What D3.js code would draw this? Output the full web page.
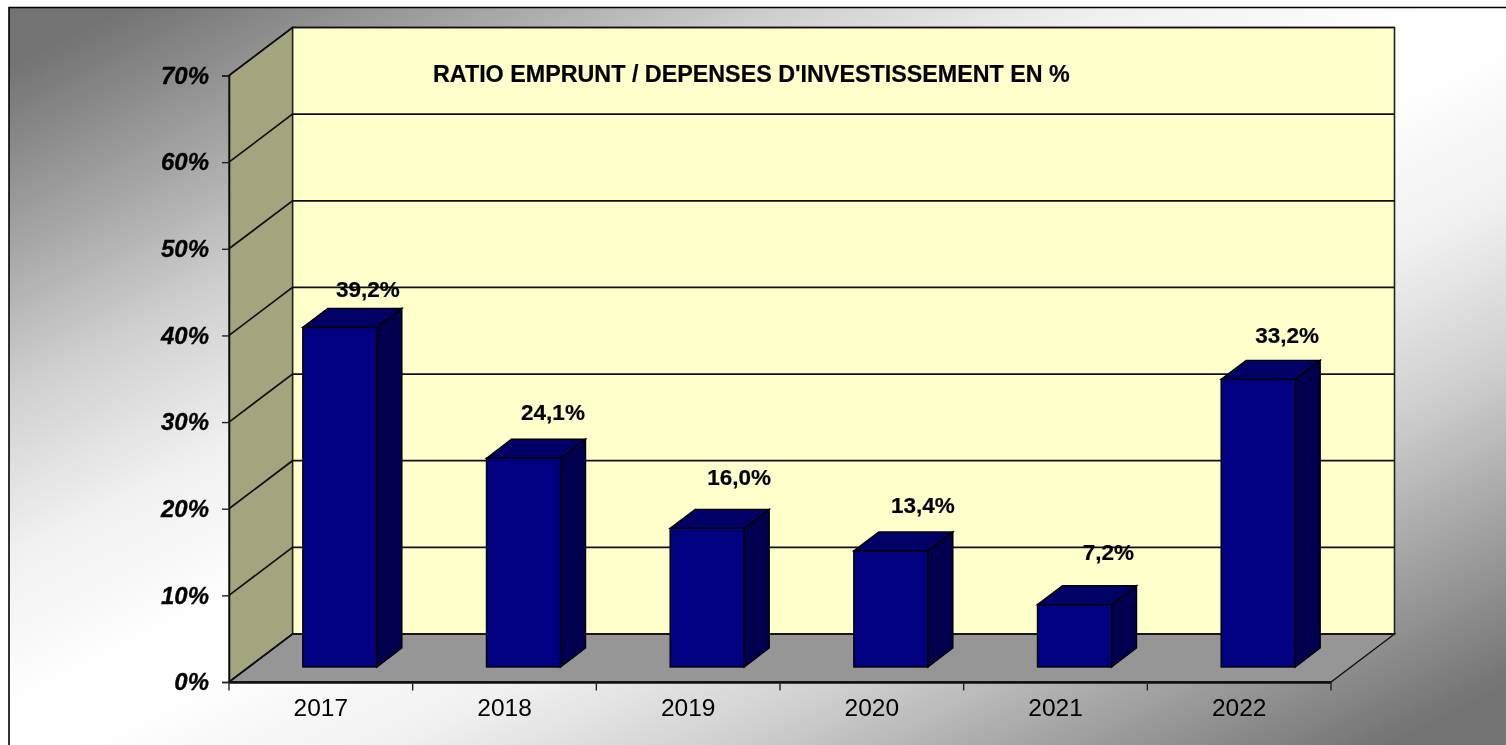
<!DOCTYPE html>
<html><head><meta charset="utf-8">
<script src="https://cdn.jsdelivr.net/npm/d3@7"></script>
<style>
html,body{margin:0;padding:0;background:#fff;overflow:hidden}
svg{display:block}
text{font-family:"Liberation Sans",Arial,sans-serif;fill:#000}
</style></head><body>
<svg id="c" width="1506" height="745"></svg>
<script>
const categories = ["2017","2018","2019","2020","2021","2022"];
const ratios = [39.2,24.1,16.0,13.4,7.2,33.2];
const valueLabels = ["39,2%","24,1%","16,0%","13,4%","7,2%","33,2%"];
const yTicks = [0,10,20,30,40,50,60,70];
const title = "RATIO EMPRUNT / DEPENSES D'INVESTISSEMENT EN %";

// layout
const x0=229, x1=1331, y0=682, yTop=75.5, depthX=63.5, depthY=48;
const barInsetX=19, barInsetY=15, barDX=25, barDY=19;
const labelNudge=[[28,-30],[29.5,-38],[32,-43],[32,-38],[34,-45],[29,-36]];
const bgStops=[[0.04,"#737373"],[0.15,"#a0a0a0"],[0.26,"#cfcfcf"],[0.37,"#f0f0f0"],[0.48,"#ffffff"],[0.52,"#ffffff"],[0.63,"#f0f0f0"],[0.74,"#cfcfcf"],[0.85,"#a0a0a0"],[0.96,"#737373"]];

const svg=d3.select("#c");
const defs=svg.append("defs");
const g=defs.append("linearGradient").attr("id","bg").attr("x1",0).attr("y1",0).attr("x2",1).attr("y2",1);
bgStops.forEach(s=>g.append("stop").attr("offset",s[0]).attr("stop-color",s[1]));
const blur=defs.append("filter").attr("id","soft").attr("x","-5%").attr("y","-5%").attr("width","110%").attr("height","110%");
blur.append("feGaussianBlur").attr("stdDeviation",0.5);

const root=svg.append("g").attr("filter","url(#soft)");
root.append("rect").attr("x",9).attr("y",7.5).attr("width",1497).attr("height",737.5).attr("fill","url(#bg)");
root.append("path").attr("d","M9,745V7.5H1506").attr("fill","none").attr("stroke","#000").attr("stroke-width",1.6);

const x=d3.scaleBand().domain(categories).range([x0,x1]);
const y=d3.scaleLinear().domain([0,70]).range([y0,yTop]);
const poly=p=>p.map(q=>q.join(",")).join(" ");
const yB=v=>y(v)-depthY;

// walls
root.append("polygon").attr("points",poly([[x0+depthX,yB(70)],[x1+depthX,yB(70)],[x1+depthX,yB(0)],[x0+depthX,yB(0)]]))
  .attr("fill","#ffffcc").attr("stroke","#222").attr("stroke-width",1.6);
root.append("polygon").attr("points",poly([[x0,y(70)],[x0+depthX,yB(70)],[x0+depthX,yB(0)],[x0,y(0)]]))
  .attr("fill","#a4a47f").attr("stroke","#222").attr("stroke-width",1.4);
root.append("polygon").attr("points",poly([[x0,y(0)],[x0+depthX,yB(0)],[x1+depthX,yB(0)],[x1,y(0)]]))
  .attr("fill","#969696").attr("stroke","#111").attr("stroke-width",1.4);

// grid
const grid=root.append("g").attr("stroke","#111").attr("fill","none");
yTicks.forEach(v=>{
  grid.append("polyline").attr("points",poly([[x0,y(v)],[x0+depthX,yB(v)],[x1+depthX,yB(v)]])).attr("stroke-width",1.7);
});

// bars
const bw=x.bandwidth()*0.403;
const bars=root.append("g").selectAll("g").data(categories).join("g");
const bl=c=>x(c)+(x.bandwidth()-bw)/2+barInsetX;
const yF=v=>y(v)-barInsetY;
const val=(c)=>ratios[categories.indexOf(c)];
bars.append("polygon").attr("fill","#000050").attr("stroke","#000").attr("stroke-width",1.4)
  .attr("points",c=>poly([[bl(c)+bw,yF(val(c))],[bl(c)+bw+barDX,yF(val(c))-barDY],[bl(c)+bw+barDX,yF(0)-barDY],[bl(c)+bw,yF(0)]]));
bars.append("polygon").attr("fill","#000066").attr("stroke","#000").attr("stroke-width",1.4)
  .attr("points",c=>poly([[bl(c),yF(val(c))],[bl(c)+barDX,yF(val(c))-barDY],[bl(c)+bw+barDX,yF(val(c))-barDY],[bl(c)+bw,yF(val(c))]]));
bars.append("rect").attr("fill","#000080").attr("stroke","#000").attr("stroke-width",1.4)
  .attr("x",bl).attr("y",c=>yF(val(c))).attr("width",bw).attr("height",c=>yF(0)-yF(val(c)));

// axes
const axL=root.append("g").attr("transform",`translate(${x0},0)`)
  .call(d3.axisLeft(y).tickValues(yTicks).tickFormat(d=>d+"%").tickSize(7).tickPadding(13));
axL.selectAll(".domain").attr("stroke","#111").attr("stroke-width",1.6);
axL.selectAll("line").attr("stroke","#222").attr("stroke-width",1.4);
axL.selectAll("text").attr("font-size",24).attr("font-weight","bold").attr("font-style","italic")
  .attr("font-family",'"Liberation Sans"').attr("fill","#000")
  .attr("stroke","#000").attr("stroke-width",0.3);

const axB=root.append("g").attr("transform",`translate(0,${y0})`)
  .call(d3.axisBottom(x).tickSize(0).tickPadding(17));
axB.selectAll(".domain").attr("stroke","#111").attr("stroke-width",2.4);
axB.selectAll("text").attr("font-size",24.5).attr("font-family",'"Liberation Sans"').attr("fill","#000");
d3.range(categories.length+1).forEach(i=>{
  const tx=x0+i*x.step();
  root.append("line").attr("x1",tx).attr("x2",tx).attr("y1",y0).attr("y2",y0+8.5).attr("stroke","#222").attr("stroke-width",1.4);
});

// value labels
root.append("g").selectAll("text").data(categories).join("text")
  .attr("text-anchor","middle").attr("font-size",22.5).attr("font-weight","bold")
  .attr("stroke","#000").attr("stroke-width",0.2)
  .attr("x",(c,i)=>bl(c)+bw/2+labelNudge[i][0])
  .attr("y",(c,i)=>yF(val(c))+labelNudge[i][1])
  .text((c,i)=>valueLabels[i]);

root.append("text").attr("x",433).attr("y",82).attr("font-size",23.3).attr("font-weight","bold")
  .attr("stroke","#000").attr("stroke-width",0.2).text(title);
</script></body></html>
